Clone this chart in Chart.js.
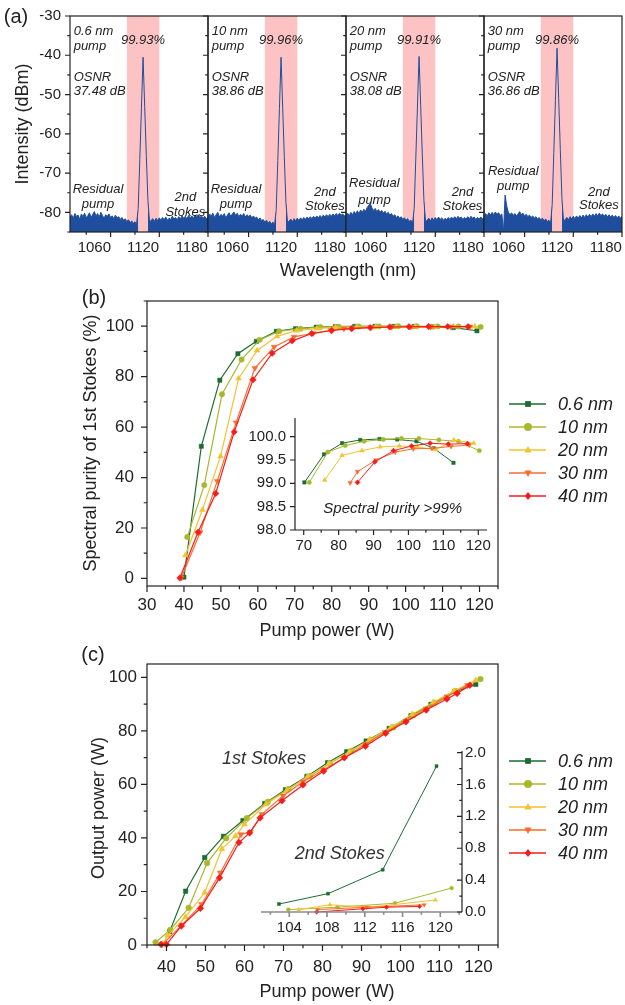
<!DOCTYPE html>
<html>
<head>
<meta charset="utf-8">
<script src="https://cdn.jsdelivr.net/npm/chart.js@4.4.0/dist/chart.umd.min.js"></script>
<style>
  body { margin: 0; width: 625px; height: 1005px; position: relative; overflow: hidden; background: #fff;
         font-family: "Liberation Sans", Arial, sans-serif; color: #222; }
  .box { position: absolute; }
  .t { position: absolute; font-size: 18px; line-height: 1; white-space: nowrap; transform: translate(-50%, -50%); }
  .r { transform: translate(-50%, -50%) rotate(-90deg); }
</style>
</head>
<body>
<div class="box" style="left:0;top:0;width:210px;height:262px"><canvas id="a0"></canvas></div>
<div class="box" style="left:200px;top:0;width:148px;height:262px"><canvas id="a1"></canvas></div>
<div class="box" style="left:338px;top:0;width:148px;height:262px"><canvas id="a2"></canvas></div>
<div class="box" style="left:476px;top:0;width:148px;height:262px"><canvas id="a3"></canvas></div>
<div class="box" style="left:80px;top:290px;width:545px;height:345px"><canvas id="b"></canvas></div>
<div class="box" style="left:230px;top:405px;width:267px;height:155px"><canvas id="bi"></canvas></div>
<div class="box" style="left:80px;top:650px;width:545px;height:345px"><canvas id="c"></canvas></div>
<div class="box" style="left:250px;top:740px;width:252px;height:200px"><canvas id="ci"></canvas></div>

<div class="t" style="left:16px;top:16px;font-size:20px">(a)</div>
<div class="t" style="left:94px;top:297px;font-size:20px">(b)</div>
<div class="t" style="left:93px;top:654px;font-size:20px">(c)</div>
<div class="t r" style="left:22px;top:124px">Intensity (dBm)</div>
<div class="t" style="left:348px;top:270px">Wavelength (nm)</div>
<div class="t r" style="left:90px;top:443px">Spectral purity of 1st Stokes (%)</div>
<div class="t" style="left:327px;top:630px">Pump power (W)</div>
<div class="t r" style="left:98px;top:808px">Output power (W)</div>
<div class="t" style="left:327px;top:991px">Pump power (W)</div>

<script>
// ---------- (a) spectra ----------
const wl = [1030,1032,1034,1036,1038,1040,1042,1044,1046,1048,1050,1052,1054,1056,1058,1060,1062,1064,1066,1068,
  1070,1072,1074,1076,1078,1080,1082,1084,1086,1088,1090,1092,1094,1096,1098,1100,1102,1104,1106,1108,1110,
  1112,1114,1116,1118,1120,1122,1124,1126,1128,1130,
  1132,1134,1136,1138,1140,1142,1144,1146,1148,1150,1152,1154,1156,1158,1160,1162,1164,1166,1168,1170,
  1172,1174,1176,1178,1180,1182,1184,1186,1188,1190,1192,1194,1196,1198,1200];

const spec06 = [-81.2,-80.6,-81.5,-80.3,-81.0,-80.7,-81.8,-80.4,-81.1,-80.2,-81.4,-80.8,-80.1,-81.3,-80.5,-79.8,-80.9,-80.3,-81.2,-80.0,
  -80.8,-81.5,-80.6,-81.0,-80.4,-81.3,-80.9,-81.6,-80.7,-81.4,-81.1,-81.8,-81.3,-82.0,-81.6,-82.3,-81.9,-82.6,-82.2,-82.8,-82.4,
  -83.0,-79.0,-66.5,-53.5,-40.5,-53.0,-65.5,-77.0,-82.5,-82.0,
  -81.6,-82.3,-81.5,-82.1,-81.4,-82.0,-81.3,-81.9,-81.2,-82.0,-81.5,-81.8,-81.0,-81.7,-81.3,-81.9,-81.1,-81.6,-80.9,-81.5,
  -81.0,-81.7,-80.8,-81.4,-80.9,-81.5,-80.7,-81.2,-80.6,-81.3,-80.9,-81.5,-81.0,-81.6,-81.2];
const spec10 = [-81.5,-80.4,-81.0,-80.2,-81.3,-80.6,-80.0,-81.2,-80.5,-81.0,-80.3,-81.4,-80.7,-80.1,-81.0,-80.4,-79.9,-80.8,-80.2,-81.1,
  -80.5,-80.9,-80.3,-81.2,-80.6,-81.0,-80.7,-81.4,-80.9,-81.5,-81.2,-81.9,-81.4,-82.1,-81.8,-82.5,-82.0,-82.7,-82.3,-82.9,-82.5,
  -83.1,-79.5,-66.8,-53.6,-40.5,-53.2,-65.8,-77.5,-82.6,-82.2,
  -81.7,-82.4,-81.6,-82.2,-81.5,-82.1,-81.4,-81.9,-81.3,-81.8,-81.2,-81.7,-81.1,-81.6,-81.0,-81.5,-80.9,-81.4,-80.8,-81.3,
  -80.7,-81.2,-80.6,-81.1,-80.5,-81.0,-80.4,-80.9,-80.3,-80.8,-80.2,-80.7,-80.4,-80.9,-80.6];
const spec20 = [-80.8,-80.2,-80.9,-80.0,-80.6,-79.8,-80.4,-79.6,-80.3,-79.4,-80.0,-79.2,-79.8,-78.8,-78.2,-77.8,-78.9,-79.5,-79.0,-79.8,
  -79.3,-80.0,-79.5,-80.2,-79.7,-80.4,-80.0,-80.7,-80.3,-81.0,-80.6,-81.3,-80.9,-81.5,-81.1,-81.8,-81.4,-82.0,-81.6,-82.3,-82.0,
  -82.8,-79.0,-66.2,-53.2,-40.3,-52.8,-65.4,-77.0,-82.4,-82.0,
  -81.5,-82.2,-81.4,-82.0,-81.3,-81.9,-81.2,-81.8,-81.4,-82.0,-81.5,-81.9,-81.3,-81.8,-81.2,-81.7,-81.1,-81.6,-81.0,-81.5,
  -81.2,-81.8,-81.3,-81.7,-81.1,-81.6,-81.0,-81.5,-81.2,-81.8,-81.3,-81.7,-81.2,-81.6,-81.4];
const spec30 = [-81.0,-80.3,-80.9,-80.1,-80.7,-80.0,-80.6,-79.9,-80.5,-80.1,-80.8,-80.4,-85.0,-75.6,-78.4,-80.0,-80.6,-80.1,-80.8,-80.3,
  -80.9,-80.4,-79.8,-80.6,-80.2,-80.9,-80.5,-81.1,-80.7,-81.3,-80.9,-81.5,-81.1,-81.7,-81.3,-81.9,-81.5,-82.1,-81.7,-82.3,-82.0,
  -82.8,-78.0,-64.8,-51.5,-38.2,-51.0,-64.0,-76.5,-82.3,-81.8,
  -81.3,-81.9,-81.1,-81.7,-81.0,-81.6,-80.9,-81.5,-80.8,-81.4,-80.7,-81.3,-80.6,-81.2,-80.5,-81.1,-80.4,-81.0,-80.3,-80.9,
  -80.2,-80.8,-80.4,-81.0,-80.5,-81.1,-80.6,-81.2,-80.7,-81.3,-80.8,-81.4,-80.9,-81.5,-81.0];

const specSeries = [spec06, spec10, spec20, spec30];
const specWidth = ['0.6 nm', '10 nm', '20 nm', '30 nm'];
const specPurity = ['99.93%', '99.96%', '99.91%', '99.86%'];
const specOsnr = ['37.48 dB', '38.86 dB', '38.08 dB', '36.86 dB'];
const stokesBand = [1100, 1140];
const dbmTicks = [-80, -70, -60, -50, -40, -30];
const wlTicks = [1060, 1120, 1180];

// ---------- (b) spectral purity ----------
const names = ['0.6 nm', '10 nm', '20 nm', '30 nm', '40 nm'];
const pur06x = [40, 44.7, 49.7, 54.6, 59.6, 65, 70.2, 75.8, 81, 86.2, 91.7, 96.8, 102.3, 107.3, 112.9, 119.3];
const pur06y = [0.5, 52.4, 78.6, 89.1, 94, 98, 99.02, 99.62, 99.86, 99.93, 99.95, 99.94, 99.9, 99.75, 99.44, 98.2];
const pur10x = [40.9, 45.5, 50.3, 55.6, 60.5, 65.8, 71.6, 76.9, 81.9, 87.3, 92.8, 98, 103, 108.7, 114.3, 120.3];
const pur10y = [16.4, 37, 73, 86.8, 94.6, 98, 99.02, 99.67, 99.81, 99.9, 99.94, 99.96, 99.96, 99.93, 99.9, 99.7];
const pur20x = [40.4, 45, 49.9, 54.8, 59.8, 65.2, 70.5, 76, 81, 86.7, 91.9, 97.4, 102.6, 107.9, 113, 118.7];
const pur20y = [9.2, 27.2, 48.4, 79.3, 90.4, 96, 98.3, 99.07, 99.6, 99.7, 99.78, 99.8, 99.78, 99.72, 99.93, 99.86];
const pur30x = [39.3, 44.4, 49, 54.1, 59.2, 64.4, 69.8, 75, 79.7, 83.3, 85.4, 90.7, 96.2, 101.4, 106.7, 112.2, 117.4];
const pur30y = [0.3, 18.3, 38.6, 61.8, 83.4, 91.8, 95.8, 97.2, 98.4, 99.01, 99.25, 99.5, 99.67, 99.74, 99.75, 99.79, 99.82];
const pur40x = [38.9, 43.8, 48.6, 53.6, 58.7, 63.9, 69.3, 74.6, 80, 85.4, 90.4, 95.7, 100.9, 106.2, 111.4, 116.9];
const pur40y = [0.2, 18.3, 33.7, 58.1, 78.8, 89.3, 94.2, 97.1, 98.3, 99.02, 99.46, 99.7, 99.8, 99.86, 99.84, 99.85];
const purTicks = [0, 20, 40, 60, 80, 100];
const pumpTicksB = [30, 40, 50, 60, 70, 80, 90, 100, 110, 120];
const insetPurTicks = [98, 98.5, 99, 99.5, 100];
const insetPumpTicks = [70, 80, 90, 100, 110, 120];

// ---------- (c) output power ----------
const out06x = [40.8, 44.9, 49.8, 54.6, 59.6, 65.2, 70.5, 76, 81.3, 86.2, 91.2, 97.1, 102.7, 107.8, 113.9, 119.3];
const out06y = [5, 20.1, 32.7, 40.6, 46.5, 52.9, 58, 63, 68.1, 72.2, 76.2, 80.9, 85.7, 89.9, 94.6, 97.4];
const out10x = [37.2, 41, 45.7, 50.4, 55.3, 60.6, 66, 71.3, 76.7, 81.9, 87.4, 92.3, 98.1, 103.4, 108.8, 114.2, 120.5];
const out10y = [1, 5.7, 13.9, 30.6, 39.9, 47.4, 53.5, 58.3, 63.1, 67.9, 72.5, 76.6, 81.3, 85.9, 90.5, 94.9, 99.4];
const out20x = [39, 40.3, 44.9, 49.8, 54.2, 57.7, 60, 65.5, 70.8, 76.2, 81.6, 86.9, 92.1, 97.6, 103, 108.4, 113.7, 119.3];
const out20y = [0.3, 3.6, 10.5, 19.6, 35.9, 40.7, 45.1, 52.6, 57.7, 63, 67.7, 72.2, 76.7, 81.4, 86.2, 90.7, 94.9, 98.9];
const out30x = [38.9, 44, 49, 53.8, 59.1, 61.5, 64.5, 69.9, 75, 80.3, 85.6, 91, 96.1, 101.4, 106.6, 111.9, 117.2];
const out30y = [0.25, 7.5, 15.2, 27, 41.3, 42.2, 48.9, 55.8, 61, 65.5, 70, 75, 79.5, 83.7, 88.2, 92.8, 97.1];
const out40x = [38.6, 40, 43.8, 48.7, 53.6, 58.6, 61.3, 64, 69.6, 75, 80.3, 85.6, 91, 96.2, 101.4, 106.6, 111.9, 114.5, 117.8];
const out40y = [0.2, 0.2, 7.1, 13.7, 25.1, 38.3, 41.9, 47.5, 53.9, 59.8, 65, 70, 74.3, 79.1, 83.4, 87.8, 91.9, 94, 97.1];
const outTicks = [0, 20, 40, 60, 80, 100];
const pumpTicksC = [40, 50, 60, 70, 80, 90, 100, 110, 120];

const s2nd06x = [102.9, 108.1, 113.9, 119.6], s2nd06y = [0.1, 0.23, 0.53, 1.83];
const s2nd10x = [103.9, 109.1, 115.2, 121.2], s2nd10y = [0.03, 0.06, 0.11, 0.3];
const s2nd20x = [105, 108.3, 112.5, 119.5],  s2nd20y = [0.03, 0.09, 0.06, 0.15];
const s2nd30x = [107, 112.2, 118.3],         s2nd30y = [0.03, 0.06, 0.09];
const s2nd40x = [106.9, 111.8, 114.3, 117.8], s2nd40y = [0.0, 0.04, 0.06, 0.07];
const s2ndTicks = [0, 0.4, 0.8, 1.2, 1.6, 2.0];
const s2ndPumpTicks = [104, 108, 112, 116, 120];

// ---------- styles ----------
const blue = '#1f4e9e';
const colors = ['#1c6b30', '#a8b82c', '#f2c230', '#fb6b2d', '#f51c1c'];
const shapes = ['rect', 'circle', 'triangle', 'triangleDown', 'rectRot'];
const pointR = [3, 2.7, 3.3, 3.3, 3.2];

Chart.defaults.font.family = '"Liberation Sans", Arial, sans-serif';
Chart.defaults.color = '#222';
Chart.defaults.animation = false;
Chart.defaults.plugins.legend.display = false;
Chart.defaults.plugins.tooltip.enabled = false;

function axis(o) {
  return {
    type: 'linear', position: o.pos, min: o.min, max: o.max,
    grid: { display: false, drawTicks: false }, border: { display: false },
    afterBuildTicks: s => { s.ticks = o.ticks.map(v => ({ value: v })); },
    afterFit: s => {
      if (o.pos === 'bottom') s.height = o.size; else s.width = o.size;
      // keep the plot box where it is set, labels may hang over the edges
      s.paddingLeft = s.paddingRight = s.paddingTop = s.paddingBottom = 0;
    },
    ticks: { display: o.labels !== false, padding: o.pad, autoSkip: false, maxRotation: 0,
             font: { size: o.font }, color: '#222', callback: o.fmt || (v => String(v)) }
  };
}

function drawMarker(ctx, shape, x, y, r) {
  ctx.beginPath();
  if (shape === 'rect') ctx.rect(x - r * 0.72, y - r * 0.72, r * 1.44, r * 1.44);
  else if (shape === 'circle') ctx.arc(x, y, r, 0, Math.PI * 2);
  else if (shape === 'triangle') { ctx.moveTo(x, y - r); ctx.lineTo(x + r * 0.9, y + r * 0.6); ctx.lineTo(x - r * 0.9, y + r * 0.6); }
  else if (shape === 'triangleDown') { ctx.moveTo(x, y + r); ctx.lineTo(x + r * 0.9, y - r * 0.6); ctx.lineTo(x - r * 0.9, y - r * 0.6); }
  else { ctx.moveTo(x, y - r); ctx.lineTo(x + r * 0.8, y); ctx.lineTo(x, y + r); ctx.lineTo(x - r * 0.8, y); }
  ctx.closePath();
  ctx.fill();
}

// frame, tick marks, shaded band, text notes, legend
function deco(o) {
  return {
    id: 'deco',
    beforeDatasetsDraw(chart) {
      if (!o.band) return;
      const { ctx, chartArea: a, scales: { x } } = chart;
      const x0 = x.getPixelForValue(o.band[0]), x1 = x.getPixelForValue(o.band[1]);
      ctx.save();
      ctx.fillStyle = '#fdc3c4';
      ctx.fillRect(x0, a.top, x1 - x0, a.bottom - a.top);
      ctx.restore();
    },
    afterDraw(chart) {
      const { ctx, chartArea: a } = chart;
      ctx.save();
      ctx.lineWidth = 1.2;
      ctx.strokeStyle = '#222';
      if (o.frame) ctx.strokeRect(a.left, a.top, a.right - a.left, a.bottom - a.top);
      (o.axes || []).forEach(ax => {
        const s = chart.scales[ax.id];
        ctx.strokeStyle = ax.color || '#222';
        ctx.lineWidth = ax.lw || 1.2;
        ctx.beginPath();
        if (ax.line) {
          if (ax.side === 'bottom') { ctx.moveTo(a.left, a.bottom); ctx.lineTo(a.right, a.bottom); }
          else if (ax.side === 'left') { ctx.moveTo(a.left, a.top); ctx.lineTo(a.left, a.bottom); }
          else { ctx.moveTo(a.right, a.top); ctx.lineTo(a.right, a.bottom); }
        }
        const n0 = Math.ceil(s.min / ax.minor - 1e-6), n1 = Math.floor(s.max / ax.minor + 1e-6);
        for (let k = n0; k <= n1; k++) {
          const v = k * ax.minor;
          const major = Math.abs(v / ax.major - Math.round(v / ax.major)) < 1e-6;
          const len = major ? ax.len : ax.len * 0.55;
          const p = s.getPixelForValue(v);
          if (ax.side === 'bottom') { ctx.moveTo(p, a.bottom); ctx.lineTo(p, a.bottom + ax.dir * len); }
          else if (ax.side === 'left') { ctx.moveTo(a.left, p); ctx.lineTo(a.left - ax.dir * len, p); }
          else { ctx.moveTo(a.right, p); ctx.lineTo(a.right + ax.dir * len, p); }
        }
        ctx.stroke();
      });
      (o.notes || []).forEach(n => {
        ctx.font = 'italic ' + n.size + 'px "Liberation Sans", Arial, sans-serif';
        ctx.fillStyle = n.color || '#222';
        ctx.textAlign = n.align || 'center';
        ctx.textBaseline = 'middle';
        ctx.fillText(n.text, chart.scales.x.getPixelForValue(n.x), chart.scales.y.getPixelForValue(n.y));
      });
      if (o.legend) {
        const L = o.legend;
        names.forEach((name, i) => {
          const y = L.top + i * 23;
          ctx.strokeStyle = colors[i];
          ctx.fillStyle = colors[i];
          ctx.lineWidth = 1.5;
          ctx.beginPath(); ctx.moveTo(L.left, y); ctx.lineTo(L.left + 37, y); ctx.stroke();
          drawMarker(ctx, shapes[i], L.left + 19, y, 4);
          ctx.font = 'italic 18px "Liberation Sans", Arial, sans-serif';
          ctx.fillStyle = '#222';
          ctx.textAlign = 'left';
          ctx.textBaseline = 'middle';
          ctx.fillText(name, L.left + 49, y + 1);
        });
      }
      ctx.restore();
    }
  };
}

function series(xs, ys, i, k, lw) {
  return {
    data: xs.map((x, j) => ({ x, y: ys[j] })),
    borderColor: colors[i], backgroundColor: colors[i],
    pointBackgroundColor: colors[i], pointBorderColor: colors[i], pointBorderWidth: 0.5,
    pointStyle: shapes[i] === 'triangleDown' ? 'triangle' : shapes[i],
    pointRotation: shapes[i] === 'triangleDown' ? 180 : 0,
    pointRadius: pointR[i] * k, borderWidth: lw, tension: 0, clip: false, order: 4 - i
  };
}

const base = { type: 'line', options: { responsive: true, maintainAspectRatio: false, events: [] } };

// (a) four spectra
const resid = [[1064.5, -74.1, -78], [1064.5, -74.1, -78], [1065, -72.7, -77], [1066, -69.5, -73.5]];
const stok = [[1172, -76.1, -79.9], [1174, -74.8, -78.6], [1173.5, -74.8, -78.6], [1171.5, -74.8, -78.3]];
specSeries.forEach((s, k) => {
  const nt = (text, x, y, align) => ({ text, x, y, align, size: 13 });
  new Chart(document.getElementById('a' + k), {
    type: 'line',
    data: { datasets: [{
      data: wl.map((x, j) => ({ x, y: s[j] })),
      borderColor: blue, backgroundColor: blue, borderWidth: 1, pointRadius: 0, tension: 0, fill: 'start',
      segment: { backgroundColor: c => (c.p0.parsed.y > -70 || c.p1.parsed.y > -70) ? 'rgba(0,0,0,0)' : blue }
    }] },
    options: {
      ...base.options,
      layout: { padding: { top: 16, right: 2, left: 0, bottom: 0 } },
      scales: {
        x: axis({ pos: 'bottom', min: 1030, max: 1200, ticks: wlTicks, size: 30, pad: 7, font: 15 }),
        y: axis({ pos: 'left', min: -85, max: -30, ticks: dbmTicks, size: k === 0 ? 70 : 8, pad: 9, font: 15, labels: k === 0 })
      }
    },
    plugins: [deco({
      band: stokesBand, frame: true,
      axes: [{ id: 'x', side: 'bottom', major: 60, minor: 30, len: 5, dir: 1 },
             { id: 'y', side: 'left', major: 10, minor: 5, len: 5, dir: 1 }],
      notes: [nt(specWidth[k], 1034.5, -33.8, 'left'), nt('pump', 1034.5, -37.7, 'left'),
              nt('OSNR', 1034.5, -45.6, 'left'), nt(specOsnr[k], 1034.5, -49.3, 'left'),
              nt(specPurity[k], 1120, -36.1, 'center'),
              nt('Residual', resid[k][0], resid[k][1], 'center'), nt('pump', resid[k][0], resid[k][2], 'center'),
              nt('2nd', stok[k][0], stok[k][1], 'center'), nt('Stokes', stok[k][0], stok[k][2], 'center')]
    })]
  });
});

// (b) spectral purity
const purX = [pur06x, pur10x, pur20x, pur30x, pur40x];
const purY = [pur06y, pur10y, pur20y, pur30y, pur40y];
new Chart(document.getElementById('b'), {
  type: 'line',
  data: { datasets: purX.map((xs, i) => series(xs, purY[i], i, 1, 1.2)) },
  options: {
    ...base.options,
    layout: { padding: { top: 11, right: 127, left: 0, bottom: 0 } },
    scales: {
      x: axis({ pos: 'bottom', min: 30, max: 125, ticks: pumpTicksB, size: 49, pad: 9, font: 17 }),
      y: axis({ pos: 'left', min: -3, max: 110, ticks: purTicks, size: 67, pad: 13, font: 17 })
    }
  },
  plugins: [deco({
    frame: true,
    axes: [{ id: 'x', side: 'bottom', major: 10, minor: 5, len: 6, dir: 1 },
           { id: 'y', side: 'left', major: 20, minor: 10, len: 6, dir: 1 }],
    legend: { left: 429, top: 114 }
  })]
});

// (b) inset: only points above 99 %
new Chart(document.getElementById('bi'), {
  type: 'line',
  data: { datasets: purX.map((xs, i) => {
    const keep = purY[i].map((y, j) => j).filter(j => purY[i][j] >= 99);
    return series(keep.map(j => xs[j]), keep.map(j => purY[i][j]), i, 0.8, 1);
  }) },
  options: {
    ...base.options,
    layout: { padding: { top: 13, right: 10, left: 0, bottom: 0 } },
    scales: {
      x: axis({ pos: 'bottom', min: 67.5, max: 122.5, ticks: insetPumpTicks, size: 30, pad: 7, font: 15 }),
      y: axis({ pos: 'left', min: 98, max: 100.4, ticks: insetPurTicks, size: 65, pad: 9, font: 15, fmt: v => v.toFixed(1) })
    }
  },
  plugins: [deco({
    axes: [{ id: 'x', side: 'bottom', major: 10, minor: 5, len: 5, dir: 1, line: true },
           { id: 'y', side: 'left', major: 0.5, minor: 0.5, len: 5, dir: 1, line: true }],
    notes: [{ text: 'Spectral purity >99%', x: 95.5, y: 98.45, size: 15, color: '#222' }]
  })]
});

// (c) output power
const outX = [out06x, out10x, out20x, out30x, out40x];
const outY = [out06y, out10y, out20y, out30y, out40y];
new Chart(document.getElementById('c'), {
  type: 'line',
  data: { datasets: outX.map((xs, i) => series(xs, outY[i], i, 1.05, 1.2)) },
  options: {
    ...base.options,
    layout: { padding: { top: 14, right: 127, left: 0, bottom: 0 } },
    scales: {
      x: axis({ pos: 'bottom', min: 35, max: 125, ticks: pumpTicksC, size: 50, pad: 12, font: 17 }),
      y: axis({ pos: 'left', min: 0, max: 105, ticks: outTicks, size: 67, pad: 10, font: 17 })
    }
  },
  plugins: [deco({
    frame: true,
    axes: [{ id: 'x', side: 'bottom', major: 10, minor: 5, len: 6, dir: 1 },
           { id: 'y', side: 'left', major: 20, minor: 10, len: 6, dir: 1 }],
    notes: [{ text: '1st Stokes', x: 65, y: 69.5, size: 18, color: '#333' },
            { text: '2nd Stokes', x: 84.4, y: 33.9, size: 18, color: '#333' }],
    legend: { left: 429, top: 111 }
  })]
});

// (c) inset: 2nd Stokes
const s2X = [s2nd06x, s2nd10x, s2nd20x, s2nd30x, s2nd40x];
const s2Y = [s2nd06y, s2nd10y, s2nd20y, s2nd30y, s2nd40y];
new Chart(document.getElementById('ci'), {
  type: 'line',
  data: { datasets: s2X.map((xs, i) => series(xs, s2Y[i], i, 0.7, 1)) },
  options: {
    ...base.options,
    layout: { padding: { top: 11, right: 0, left: 11, bottom: 0 } },
    scales: {
      x: axis({ pos: 'bottom', min: 101, max: 122.3, ticks: s2ndPumpTicks, size: 28, pad: 7, font: 15 }),
      y: axis({ pos: 'right', min: 0, max: 2.02, ticks: s2ndTicks, size: 40, pad: 3, font: 15, fmt: v => v.toFixed(1) })
    }
  },
  plugins: [deco({
    axes: [{ id: 'x', side: 'bottom', major: 4, minor: 2, len: 5, dir: 1, line: true, color: '#8a8a8a', lw: 1.6 },
           { id: 'y', side: 'right', major: 0.4, minor: 0.2, len: 5, dir: -1, line: true }]
  })]
});
</script>
</body>
</html>
